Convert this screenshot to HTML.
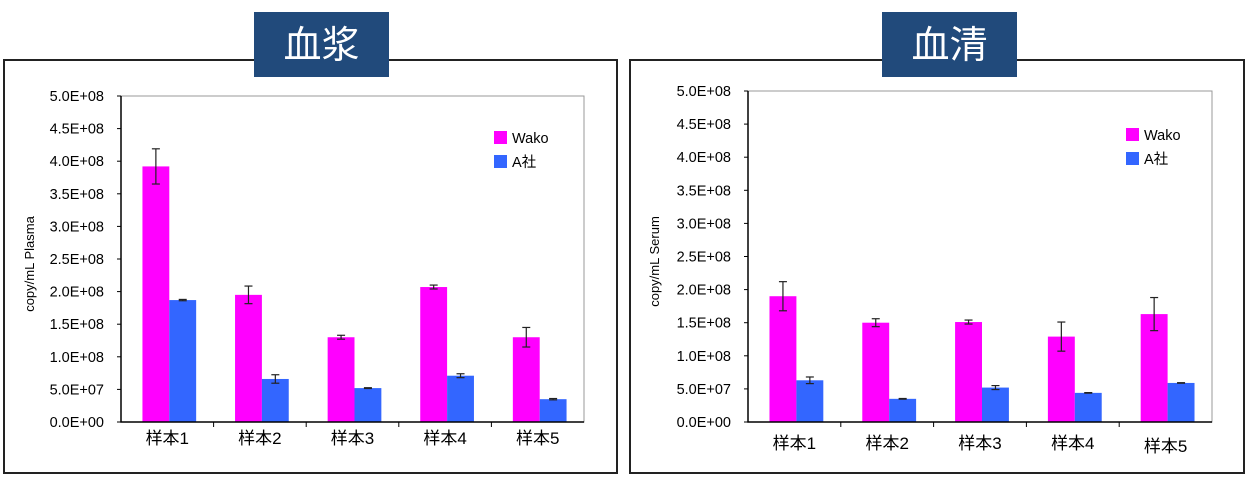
<!DOCTYPE html>
<html><head><meta charset="utf-8"><style>
html,body{margin:0;padding:0;background:#fff;}
svg{display:block;font-family:"Liberation Sans","Noto Sans CJK JP",sans-serif;}
</style></head><body>
<svg id="chart" width="1253" height="479" viewBox="0 0 1253 479"></svg>
<script>
const categories = ["样本1","样本2","样本3","样本4","样本5"];
const yTicks = [0,0.5e8,1e8,1.5e8,2e8,2.5e8,3e8,3.5e8,4e8,4.5e8,5e8];
const yTickLabels = ["0.0E+00","5.0E+07","1.0E+08","1.5E+08","2.0E+08","2.5E+08","3.0E+08","3.5E+08","4.0E+08","4.5E+08","5.0E+08"];
const seriesNames = ["Wako","A社"];
const plasmaWako = [3.92e8,1.95e8,1.30e8,2.07e8,1.30e8];
const plasmaWakoErr = [0.27e8,0.135e8,0.03e8,0.03e8,0.15e8];
const plasmaA = [1.87e8,0.66e8,0.52e8,0.71e8,0.35e8];
const plasmaAErr = [0.01e8,0.065e8,0.006e8,0.03e8,0.01e8];
const serumWako = [1.90e8,1.50e8,1.51e8,1.29e8,1.63e8];
const serumWakoErr = [0.22e8,0.06e8,0.03e8,0.22e8,0.25e8];
const serumA = [0.63e8,0.35e8,0.52e8,0.44e8,0.59e8];
const serumAErr = [0.05e8,0.005e8,0.03e8,0.004e8,0.004e8];

const NS="http://www.w3.org/2000/svg";
const svg=document.getElementById('chart');
function mk(tag,attrs,parent){const e=document.createElementNS(NS,tag);for(const k in attrs)e.setAttribute(k,attrs[k]);(parent||svg).appendChild(e);return e;}

function panel(o){
  const g=mk('g',{});
  
  
  const box=mk('rect',{x:o.bx0,y:60,width:o.bx1-o.bx0,height:413,fill:'none',stroke:'#222','stroke-width':2},g);
  
  
  const tb=mk('rect',{x:o.tx0,y:12,width:o.tx1-o.tx0,height:65,fill:'#214a7b'},g);
  
  
  const tt=mk('text',{x:(o.tx0+o.tx1)/2,y:58,'text-anchor':'middle',fill:'#fff','font-size':38},g);
  tt.textContent=o.title;
  
  
  const x0=o.px0,x1=o.px1,y0=o.py0,y1=o.py1;
  const ys=v=>y1-(v/5e8)*(y1-y0);
  const cw=(x1-x0)/categories.length;
  const pa=mk('rect',{x:x0,y:y0,width:x1-x0,height:y1-y0,fill:'#fff',stroke:'#999','stroke-width':1},g);
  
  
  yTicks.forEach((t,i)=>{
    const y=ys(t);
    const tk=mk('line',{x1:x0-4,x2:x0,y1:y,y2:y,stroke:'#000'},g);
    
    
    const lb=mk('text',{x:x0-17,y:y+5,'text-anchor':'end','font-size':14.5,fill:'#000'},g);
    lb.textContent=yTickLabels[i];
    
    
  });
  const yt=mk('text',{x:0,y:0,'text-anchor':'middle','font-size':13,fill:'#000',transform:`translate(${o.ytx},${(y0+y1)/2+5}) rotate(-90)`},g);
  yt.textContent=o.ytitle;
  
  
  const bw=cw*0.29;
  categories.forEach((c,i)=>{
    const cx=x0+cw*(i+0.5)+2;
    [[o.w,o.we,'#ff00ff',cx-bw,'wako'],[o.a,o.ae,'#3366ff',cx,'a']].forEach(([vals,errs,col,bx,nm])=>{
      const v=vals[i],e=errs[i];
      const r=mk('rect',{x:bx,y:ys(v),width:bw,height:y1-ys(v),fill:col},g);
      
      
      const ex=bx+bw/2;
      const eg=mk('g',{stroke:'#222','stroke-width':1.2},g);
      
      
      mk('line',{x1:ex,x2:ex,y1:ys(v+e),y2:ys(v-e)},eg);
      mk('line',{x1:ex-4,x2:ex+4,y1:ys(v+e),y2:ys(v+e)},eg);
      mk('line',{x1:ex-4,x2:ex+4,y1:ys(v-e),y2:ys(v-e)},eg);
    });
    const cl=mk('text',{x:x0+cw*(i+0.5),y:o.cly+(i===4?o.cl5:0),'text-anchor':'middle','font-size':17,fill:'#000'},g);
    cl.textContent=c;
    
    
    if(i>0){const xt=mk('line',{x1:x0+cw*i,x2:x0+cw*i,y1:y1,y2:y1+5,stroke:'#000'},g);
      
      }
  });
  const ax=mk('path',{d:`M${x0},${y0} V${y1} H${x1}`,fill:'none',stroke:'#000','stroke-width':1.5},g);
  
  
  seriesNames.forEach((s,k)=>{
    const ly=o.ly+k*24;
    const lg=mk('g',{},g);
    
    
    mk('rect',{x:o.lx,y:ly,width:13,height:13,fill:k?'#3366ff':'#ff00ff'},lg);
    const lt=mk('text',{x:o.lx+18,y:ly+12,'font-size':14.5,fill:'#000'},lg);
    lt.textContent=s;
  });
}
panel({id:'plasma',title:'血浆',bx0:4,bx1:617,tx0:254,tx1:389,px0:121,px1:584,py0:96,py1:422,ytx:34,ytitle:'copy/mL Plasma',
  w:plasmaWako,we:plasmaWakoErr,a:plasmaA,ae:plasmaAErr,cly:444,cl5:0,lx:494,ly:131});
panel({id:'serum',title:'血清',bx0:630,bx1:1244,tx0:882,tx1:1017,px0:748,px1:1212,py0:91,py1:422,ytx:659,ytitle:'copy/mL Serum',
  w:serumWako,we:serumWakoErr,a:serumA,ae:serumAErr,cly:449,cl5:3,lx:1126,ly:128});
</script>
</body></html>
